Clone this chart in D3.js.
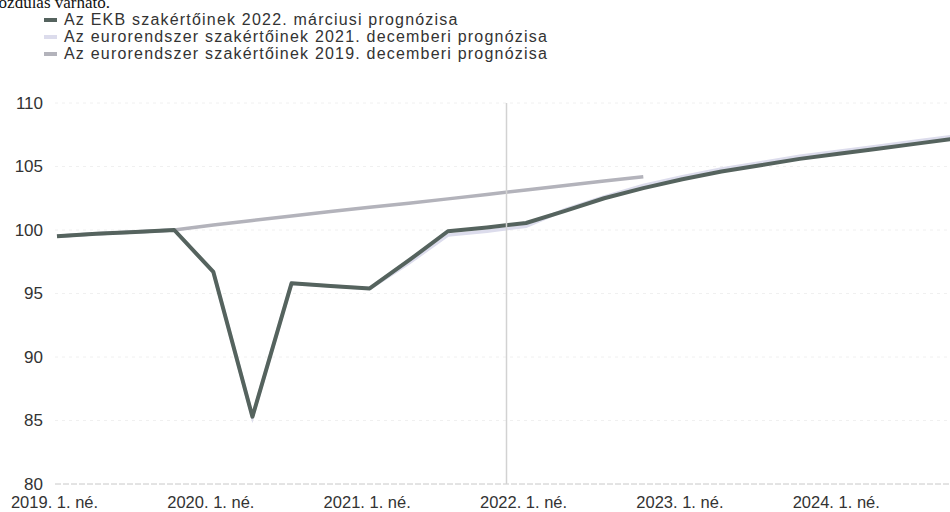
<!DOCTYPE html>
<html>
<head>
<meta charset="utf-8">
<script src="https://cdn.jsdelivr.net/npm/d3@7"></script>
<style>
  body { margin: 0; background: #fff; }
  svg { display: block; font-family: "Liberation Sans", Arial, sans-serif; }
</style>
</head>
<body>
<svg id="chart" width="950" height="512"></svg>
<script>
// quarters from 2019 Q1 to 2024 Q4 (index 0..23)
const quarters = d3.range(24)
const tickIdx = [0, 4, 8, 12, 16, 20]
const tickLabels = ['2019. 1. né.', '2020. 1. né.', '2021. 1. né.', '2022. 1. né.', '2023. 1. né.', '2024. 1. né.']
const yTicks = [80, 85, 90, 95, 100, 105, 110]

// ECB staff, March 2022
const ekb2022 = [99.5, 99.7, 99.85, 100.0, 96.7, 85.3, 95.8, 95.6, 95.4, 97.6, 99.9, 100.2,
  100.55, 101.5, 102.5, 103.3, 104.0, 104.6, 105.1, 105.6, 106.0, 106.4, 106.8, 107.2]
// Eurosystem staff, December 2021
const dec2021 = [99.5, 99.7, 99.85, 100.0, 96.7, 85.3, 95.8, 95.6, 95.4, 97.4, 99.6, 99.9,
  100.3, 101.6, 102.6, 103.5, 104.2, 104.8, 105.3, 105.8, 106.2, 106.6, 107.0, 107.4]
// Eurosystem staff, December 2019
const dec2019 = [99.5, 99.7, 99.85, 100.0, 100.4, 100.75, 101.1, 101.45, 101.8, 102.1, 102.45, 102.8,
  103.15, 103.5, 103.85, 104.2]

const legendNames = [
  'Az EKB szakértőinek 2022. márciusi prognózisa',
  'Az eurorendszer szakértőinek 2021. decemberi prognózisa',
  'Az eurorendszer szakértőinek 2019. decemberi prognózisa'
]
const colors = ['#55635e', '#dcdcec', '#b3b3bb']

const svg = d3.select('#chart')

const x = d3.scaleLinear().domain([0, 23]).range([57, 956])
const y = d3.scaleLinear().domain([80, 110]).range([484, 103])

// cut-off text line of the page above the chart
svg.append('text')
  .attr('x', 110).attr('y', 8)
  .attr('text-anchor', 'end')
  .attr('font-family', '"Liberation Serif", "Times New Roman", serif')
  .attr('font-size', 17)
  .attr('fill', '#111')
  .text('mozdulás várható.')

// faint grid
svg.append('g')
  .selectAll('line')
  .data(yTicks.slice(1))
  .join('line')
  .attr('x1', 55).attr('x2', 950)
  .attr('y1', d => y(d)).attr('y2', d => y(d))
  .attr('stroke', '#f0f0f0')
  .attr('stroke-dasharray', '3,4')

svg.append('line')
  .attr('x1', 55).attr('x2', 950)
  .attr('y1', y(80)).attr('y2', y(80))
  .attr('stroke', '#c8c8c8')
  .attr('stroke-dasharray', '6,2')

// y axis labels
const yAxis = d3.axisLeft(y).tickValues(yTicks).tickSize(0).tickPadding(0)
svg.append('g')
  .attr('transform', 'translate(43,0)')
  .call(yAxis)
  .call(g => g.select('.domain').remove())
  .call(g => g.selectAll('text')
    .attr('font-size', 17)
    .attr('fill', '#333')
    .attr('font-family', '"Liberation Sans", Arial, sans-serif'))

// x axis labels
const xAxis = d3.axisBottom(x).tickValues(tickIdx).tickFormat((d, i) => tickLabels[i]).tickSize(0).tickPadding(0)
svg.append('g')
  .attr('transform', 'translate(-3,' + (y(80) + 12) + ')')
  .call(xAxis)
  .call(g => g.select('.domain').remove())
  .call(g => g.selectAll('text')
    .attr('font-size', 16.5)
    .attr('fill', '#333')
    .attr('font-family', '"Liberation Sans", Arial, sans-serif'))

// lines
const line = d3.line()
  .x((d, i) => x(i))
  .y(d => y(d))

svg.append('path')
  .datum(dec2019)
  .attr('d', line)
  .attr('fill', 'none')
  .attr('stroke', colors[2])
  .attr('stroke-width', 3.5)

svg.append('path')
  .datum(dec2021)
  .attr('d', line)
  .attr('fill', 'none')
  .attr('stroke', colors[1])
  .attr('stroke-width', 3.5)

svg.append('path')
  .datum(ekb2022)
  .attr('d', line)
  .attr('fill', 'none')
  .attr('stroke', colors[0])
  .attr('stroke-width', 4)
  .attr('stroke-linejoin', 'round')

// vertical marker line
svg.append('line')
  .attr('x1', x(11.5)).attr('x2', x(11.5))
  .attr('y1', y(110)).attr('y2', y(80))
  .attr('stroke', '#d2d2d2')
  .attr('stroke-width', 1.5)

// legend
const legend = svg.append('g')
legendNames.forEach((name, i) => {
  const ly = 20 + i * 17
  legend.append('line')
    .attr('x1', 44).attr('x2', 57)
    .attr('y1', ly).attr('y2', ly)
    .attr('stroke', colors[i])
    .attr('stroke-width', 4)
  legend.append('text')
    .attr('x', 64).attr('y', ly + 5)
    .attr('font-size', 16)
    .attr('letter-spacing', 1.2)
    .attr('fill', '#333')
    .text(name)
})
</script>
</body>
</html>
